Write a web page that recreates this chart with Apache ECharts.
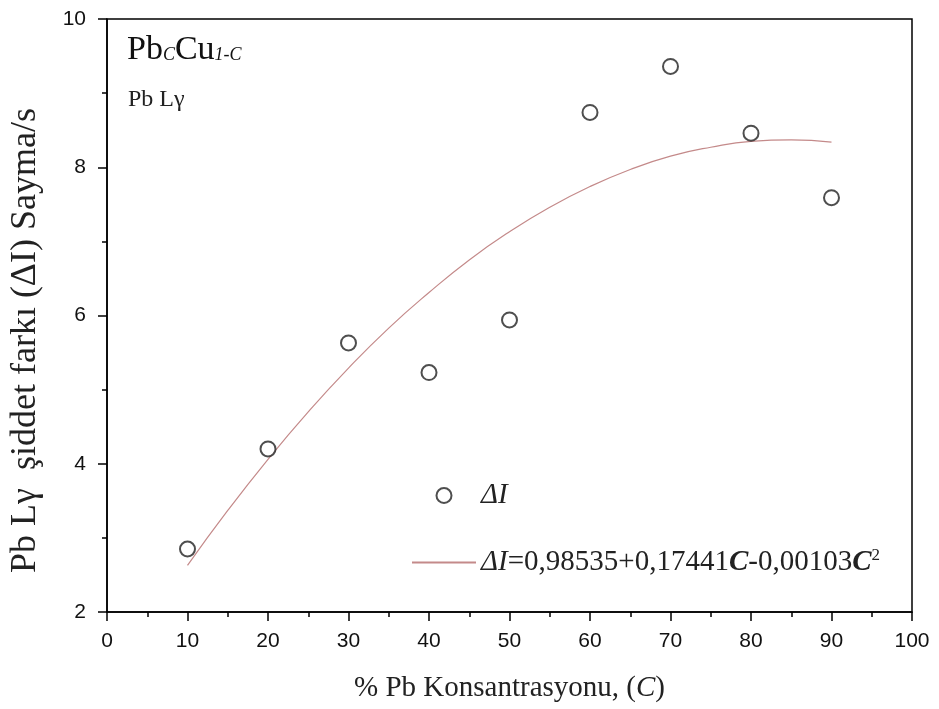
<!DOCTYPE html>
<html>
<head>
<meta charset="utf-8">
<script src="https://cdn.jsdelivr.net/npm/echarts@6/dist/echarts.min.js"></script>
<style>html,body{margin:0;padding:0;background:#fff}#c{width:939px;height:709px}</style>
</head>
<body>
<div id="c"></div>
<script>
// Measured data points
const concentration = [10, 20, 30, 40, 50, 60, 70, 80, 90];
const deltaI = [2.85, 4.20, 5.63, 5.23, 5.94, 8.74, 9.36, 8.46, 7.59];
// Fitted curve values
const fitC = [10, 15, 20, 25, 30, 35, 40, 45, 50, 55, 60, 65, 70, 75, 80, 85, 90];
const fitI = [2.63, 3.37, 4.06, 4.70, 5.29, 5.83, 6.31, 6.75, 7.13, 7.46, 7.74, 7.97, 8.15, 8.27, 8.35, 8.37, 8.34];
const xTicks = [0, 10, 20, 30, 40, 50, 60, 70, 80, 90, 100];
const yTicks = [2, 4, 6, 8, 10];

const serif = "'Liberation Serif','Times New Roman',serif";
const sans = "'Liberation Sans',Arial,sans-serif";

const chart = echarts.init(document.getElementById('c'), null, {renderer: 'canvas'});
chart.setOption({
  animation: false,
  backgroundColor: '#fff',
  grid: {left: 106, right: 27, top: 19, bottom: 97, show: true, borderColor: '#000', borderWidth: 1.5},
  xAxis: {
    type: 'value', min: xTicks[0], max: xTicks[xTicks.length - 1], interval: 10,
    name: '{t|% Pb Konsantrasyonu, (}{i|C}{t|)}',
    nameLocation: 'middle', nameGap: 62,
    nameTextStyle: {rich: {
      t: {fontFamily: serif, fontSize: 29, color: '#222'},
      i: {fontFamily: serif, fontSize: 29, fontStyle: 'italic', color: '#222'}
    }},
    axisLine: {lineStyle: {color: '#000', width: 1.5}},
    axisTick: {inside: false, length: 9, lineStyle: {color: '#000', width: 1.5}},
    minorTick: {show: true, splitNumber: 2, length: 5, lineStyle: {color: '#000', width: 1.5}},
    axisLabel: {fontFamily: sans, fontSize: 21, color: '#111', margin: 19},
    splitLine: {show: false}
  },
  yAxis: {
    type: 'value', min: yTicks[0], max: yTicks[yTicks.length - 1], interval: 2,
    name: 'Pb Lγ  şiddet farkı (ΔI) Sayma/s',
    nameLocation: 'middle', nameGap: 63,
    nameTextStyle: {fontFamily: serif, fontSize: 36, color: '#222', padding: [0, 50, 0, 0]},
    axisLine: {lineStyle: {color: '#000', width: 1.5}},
    axisTick: {inside: false, length: 9, lineStyle: {color: '#000', width: 1.5}},
    minorTick: {show: true, splitNumber: 2, length: 5, lineStyle: {color: '#000', width: 1.5}},
    axisLabel: {fontFamily: sans, fontSize: 21, color: '#111', margin: 21},
    splitLine: {show: false}
  },
  legend: {
    orient: 'vertical', left: 406, top: 476, itemGap: 37,
    itemWidth: 64, itemHeight: 15,
    data: [
      {name: 'pts', icon: 'emptyCircle'},
      {name: 'fit', itemStyle: {opacity: 0}}
    ],
    formatter: function (n) {
      return n === 'pts' ? '{i|ΔI}' : '{i|ΔI}{t|=0,98535+0,17441}{b|C}{t|-0,00103}{b|C}{s|2}';
    },
    textStyle: {rich: {
      i: {fontFamily: serif, fontSize: 29, fontStyle: 'italic', color: '#222'},
      t: {fontFamily: serif, fontSize: 29, color: '#222'},
      b: {fontFamily: serif, fontSize: 29, fontStyle: 'italic', fontWeight: 'bold', color: '#222'},
      s: {fontFamily: serif, fontSize: 17, color: '#222', verticalAlign: 'top', padding: [0, 0, 14, 0]}
    }}
  },
  graphic: [
    {type: 'text', left: 127, top: 33, style: {
      text: '{a|Pb}{s|C}{a|Cu}{s|1-C}',
      rich: {
        a: {fontFamily: serif, fontSize: 34, fill: '#111'},
        s: {fontFamily: serif, fontSize: 18, fontStyle: 'italic', fill: '#111', padding: [10, 0, 0, 0]}
      }
    }},
    {type: 'text', left: 128, top: 88, style: {
      text: 'Pb Lγ', fontFamily: serif, fontSize: 24, fill: '#222'
    }}
  ],
  series: [
    {
      name: 'fit', type: 'line', smooth: true, showSymbol: false, symbol: 'none',
      data: fitC.map((c, k) => [c, fitI[k]]),
      lineStyle: {color: '#c48a8a', width: 1.2},
      itemStyle: {color: '#c48a8a'}, z: 2
    },
    {
      name: 'pts', type: 'scatter', symbol: 'emptyCircle', symbolSize: 15,
      data: concentration.map((c, k) => [c, deltaI[k]]),
      itemStyle: {color: '#222', borderColor: '#222', borderWidth: 1.8}, z: 3
    }
  ]
});
</script>
</body>
</html>
